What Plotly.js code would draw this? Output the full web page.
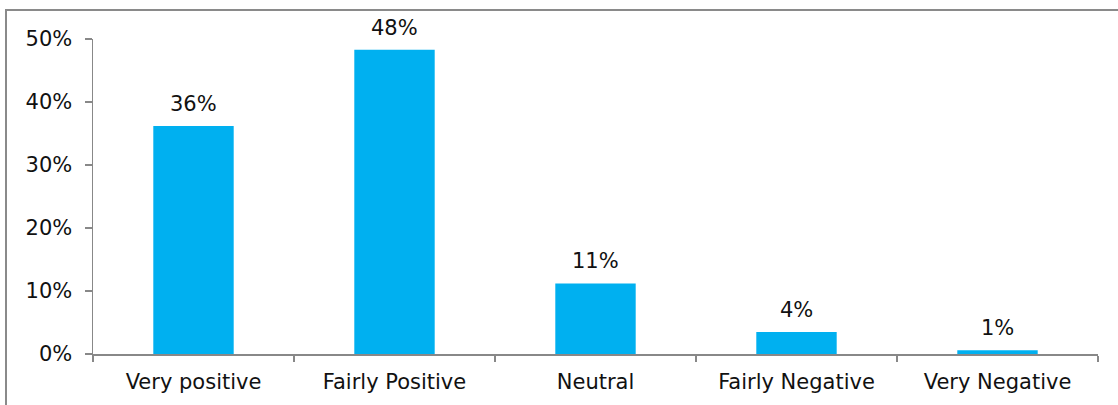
<!DOCTYPE html>
<html>
<head>
<meta charset="utf-8">
<script src="https://cdn.plot.ly/plotly-3.0.1.min.js"></script>
<style>
  html, body { margin: 0; padding: 0; background: #ffffff; }
  #wrap { position: relative; width: 1118px; height: 405px; overflow: hidden; }
  #chart { position: absolute; left: 0; top: 0; width: 1118px; height: 405px; }
  #frame {
    position: absolute; left: 5px; top: 9px; width: 1200px; height: 500px;
    border-top: 2px solid #8a8a8a; border-left: 2px solid #8a8a8a;
    pointer-events: none;
  }
</style>
</head>
<body>
<div id="wrap">
  <div id="chart"></div>
  <div id="frame"></div>
</div>
<script>
// Share of responses per opinion category (percent)
const categories = ['Very positive', 'Fairly Positive', 'Neutral', 'Fairly Negative', 'Very Negative'];
const shares = [36.2, 48.3, 11.2, 3.5, 0.6];
const yTicks = [0, 10, 20, 30, 40, 50];

const font = { family: 'DejaVu Sans, Verdana, sans-serif', size: 21, color: '#111111' };
const axisGrey = '#888888';

const bars = {
  type: 'bar',
  x: categories,
  y: shares,
  width: 0.4,
  marker: { color: '#00B0F0', line: { width: 0 } },
  hoverinfo: 'skip'
};

// Value labels sit above each bar, computed from the bar's own value
const labels = categories.map((c, i) => ({
  x: c,
  y: shares[i],
  xref: 'x',
  yref: 'y',
  text: Math.round(shares[i]) + '%',
  showarrow: false,
  yanchor: 'bottom',
  yshift: 8,
  font: font
}));

const layout = {
  width: 1118,
  height: 405,
  margin: { l: 93, r: 20, t: 39, b: 51, pad: 0 },
  paper_bgcolor: '#ffffff',
  plot_bgcolor: '#ffffff',
  showlegend: false,
  font: font,
  bargap: 0.6,
  xaxis: {
    type: 'category',
    tickson: 'boundaries',
    ticks: 'outside',
    ticklen: 6,
    tickwidth: 1.5,
    tickcolor: axisGrey,
    showline: true,
    linecolor: axisGrey,
    linewidth: 1.5,
    showgrid: false,
    zeroline: false,
    ticklabelstandoff: 8,
    tickfont: font
  },
  yaxis: {
    range: [0, 50],
    tickvals: yTicks,
    ticktext: yTicks.map(v => v + '%'),
    ticks: 'outside',
    ticklen: 7,
    tickwidth: 1.5,
    tickcolor: axisGrey,
    showline: true,
    linecolor: axisGrey,
    linewidth: 1.5,
    showgrid: false,
    zeroline: false,
    ticklabelstandoff: 8,
    tickfont: font,
    fixedrange: true
  },
  annotations: labels
};

Plotly.newPlot('chart', [bars], layout, { displayModeBar: false, staticPlot: true });
</script>
</body>
</html>
